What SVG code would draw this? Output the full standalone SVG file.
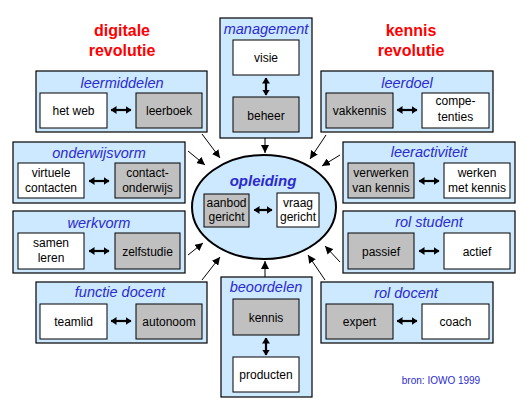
<svg xmlns="http://www.w3.org/2000/svg" width="531" height="409" viewBox="0 0 531 409">
<defs>
<marker id="ah" viewBox="0 0 8 8" refX="8" refY="4" markerWidth="8" markerHeight="8" markerUnits="userSpaceOnUse" orient="auto-start-reverse"><path d="M0,0 L8,4 L0,8 z" fill="#000"/></marker>
<marker id="dh" viewBox="0 0 6 8" refX="5.5" refY="4" markerWidth="6" markerHeight="8" markerUnits="userSpaceOnUse" orient="auto-start-reverse"><path d="M0,0 L6,4 L0,8 z" fill="#000"/></marker>
</defs>
<style>
text{font-family:"Liberation Sans",Arial,sans-serif;text-anchor:middle}
.box{fill:#cce9ff;stroke:#000;stroke-width:1.2}
.w{fill:#fff;stroke:#000;stroke-width:1}
.g{fill:#c0c0c0;stroke:#000;stroke-width:1}
.t{font-size:14.5px;font-style:italic;fill:#2a2ad0}
.l{font-size:12px;fill:#000}
.big{font-size:16px;font-weight:bold;fill:#ff0000}
.dbl{stroke:#000;stroke-width:2.2;fill:none;marker-start:url(#dh);marker-end:url(#dh)}
.c{stroke:#000;stroke-width:1;fill:none;marker-end:url(#ah)}
</style>
<rect width="531" height="409" fill="#fff"/>

<g id="title-digitale">
<text class="big" x="122" y="36">digitale</text>
<text class="big" x="122" y="56">revolutie</text>
</g>
<g id="title-kennis">
<text class="big" x="411" y="36">kennis</text>
<text class="big" x="411" y="56">revolutie</text>
</g>

<g id="management">
<rect class="box" x="220" y="18" width="92" height="120"/>
<text class="t" x="266" y="34">management</text>
<rect class="w" x="233" y="40" width="66" height="35"/>
<text class="l" x="266" y="62">visie</text>
<rect class="g" x="233" y="97" width="66" height="35"/>
<text class="l" x="266" y="120">beheer</text>
<line class="dbl" x1="266" y1="78" x2="266" y2="95"/>
</g>

<g id="leermiddelen">
<rect class="box" x="36" y="71" width="171" height="61"/>
<text class="t" x="122" y="88">leermiddelen</text>
<rect class="w" x="40" y="93" width="67" height="35"/>
<text class="l" x="73.5" y="115">het web</text>
<rect class="g" x="136" y="93" width="66" height="35"/>
<text class="l" x="169" y="115">leerboek</text>
<line class="dbl" x1="111" y1="110" x2="131" y2="110"/>
</g>

<g id="leerdoel">
<rect class="box" x="321" y="71" width="172" height="61"/>
<text class="t" x="407" y="88">leerdoel</text>
<rect class="g" x="326" y="93" width="67" height="35"/>
<text class="l" x="359.5" y="115">vakkennis</text>
<rect class="w" x="422" y="93" width="67" height="35"/>
<text class="l" x="455.5" y="105">compe-</text>
<text class="l" x="455.5" y="121">tenties</text>
<line class="dbl" x1="397" y1="110" x2="417" y2="110"/>
</g>

<g id="onderwijsvorm">
<rect class="box" x="13" y="142" width="172" height="61"/>
<text class="t" x="99" y="158">onderwijsvorm</text>
<rect class="w" x="18" y="163" width="66" height="35"/>
<text class="l" x="51" y="177">virtuele</text>
<text class="l" x="51" y="192">contacten</text>
<rect class="g" x="115" y="163" width="65" height="35"/>
<text class="l" x="147.5" y="177">contact-</text>
<text class="l" x="147.5" y="192">onderwijs</text>
<line class="dbl" x1="89" y1="181" x2="109" y2="181"/>
</g>

<g id="werkvorm">
<rect class="box" x="13" y="211" width="172" height="62"/>
<text class="t" x="99" y="228">werkvorm</text>
<rect class="w" x="18" y="233" width="66" height="36"/>
<text class="l" x="51" y="247">samen</text>
<text class="l" x="51" y="262">leren</text>
<rect class="g" x="115" y="233" width="65" height="36"/>
<text class="l" x="147.5" y="256">zelfstudie</text>
<line class="dbl" x1="89" y1="251" x2="109" y2="251"/>
</g>

<g id="leeractiviteit">
<rect class="box" x="343" y="142" width="172" height="61"/>
<text class="t" x="429" y="157">leeractiviteit</text>
<rect class="g" x="348" y="163" width="66" height="35"/>
<text class="l" x="381" y="177">verwerken</text>
<text class="l" x="381" y="192">van kennis</text>
<rect class="w" x="444" y="163" width="66" height="35"/>
<text class="l" x="477" y="177">werken</text>
<text class="l" x="477" y="192">met kennis</text>
<line class="dbl" x1="419" y1="181" x2="439" y2="181"/>
</g>

<g id="rol-student">
<rect class="box" x="343" y="211" width="172" height="62"/>
<text class="t" x="429" y="227">rol student</text>
<rect class="g" x="348" y="233" width="66" height="36"/>
<text class="l" x="381" y="256">passief</text>
<rect class="w" x="444" y="233" width="66" height="36"/>
<text class="l" x="477" y="256">actief</text>
<line class="dbl" x1="419" y1="251" x2="439" y2="251"/>
</g>

<g id="functie-docent">
<rect class="box" x="36" y="282" width="171" height="61"/>
<text class="t" x="120" y="297">functie docent</text>
<rect class="w" x="40" y="304" width="67" height="35"/>
<text class="l" x="73.5" y="326">teamlid</text>
<rect class="g" x="136" y="304" width="66" height="35"/>
<text class="l" x="169" y="326">autonoom</text>
<line class="dbl" x1="111" y1="321" x2="131" y2="321"/>
</g>

<g id="beoordelen">
<rect class="box" x="221" y="277" width="91" height="120"/>
<text class="t" x="266" y="292">beoordelen</text>
<rect class="g" x="233" y="299" width="66" height="36"/>
<text class="l" x="266" y="322">kennis</text>
<rect class="w" x="233" y="357" width="66" height="35"/>
<text class="l" x="266" y="379">producten</text>
<line class="dbl" x1="266" y1="338" x2="266" y2="355"/>
</g>

<g id="rol-docent">
<rect class="box" x="321" y="282" width="172" height="61"/>
<text class="t" x="406" y="298">rol docent</text>
<rect class="g" x="326" y="304" width="67" height="35"/>
<text class="l" x="359.5" y="326">expert</text>
<rect class="w" x="422" y="304" width="67" height="35"/>
<text class="l" x="455.5" y="326">coach</text>
<line class="dbl" x1="397" y1="321" x2="417" y2="321"/>
</g>

<g id="opleiding">
<ellipse cx="264" cy="207" rx="72" ry="52" fill="#cce9ff" stroke="#000" stroke-width="2"/>
<text x="263" y="186" style="font-size:15px;font-weight:bold;font-style:italic;fill:#2a2ad0">opleiding</text>
<rect class="g" x="204" y="194" width="45" height="33"/>
<text class="l" x="226.5" y="207">aanbod</text>
<text class="l" x="226.5" y="221">gericht</text>
<rect class="w" x="277" y="193" width="42" height="34"/>
<text class="l" x="298" y="207">vraag</text>
<text class="l" x="298" y="221">gericht</text>
<line class="dbl" x1="254" y1="210" x2="272" y2="210"/>
</g>

<g id="connectors">
<line class="c" x1="265" y1="138" x2="265" y2="153"/>
<line class="c" x1="202" y1="134" x2="220" y2="158"/>
<line class="c" x1="188" y1="151" x2="205" y2="165"/>
<line class="c" x1="188" y1="255" x2="203" y2="243"/>
<line class="c" x1="202" y1="280" x2="220" y2="257"/>
<line class="c" x1="265" y1="277" x2="265" y2="261"/>
<line class="c" x1="326" y1="135" x2="310" y2="159"/>
<line class="c" x1="340" y1="155" x2="322" y2="166"/>
<line class="c" x1="340" y1="262" x2="325" y2="246"/>
<line class="c" x1="325" y1="280" x2="308" y2="255"/>
</g>

<g id="source">
<text x="441" y="384" style="font-size:10px;fill:#2a2ad0">bron: IOWO 1999</text>
</g>
</svg>
